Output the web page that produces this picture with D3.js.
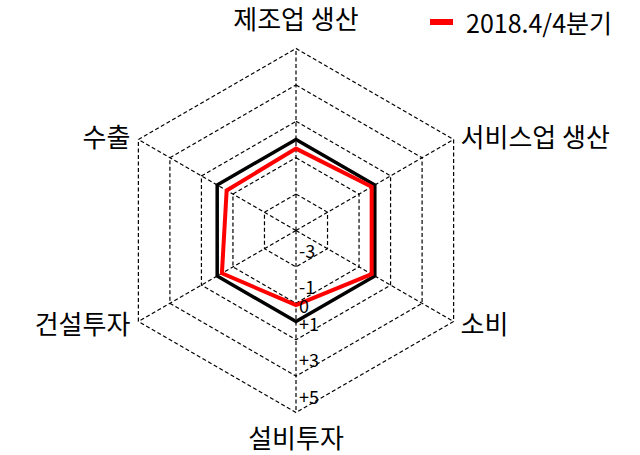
<!DOCTYPE html>
<html>
<head>
<meta charset="utf-8">
<script src="https://cdn.jsdelivr.net/npm/d3@7"></script>
<style>
  body { margin: 0; background: #fff; }
  text { font-family: "Noto Sans CJK KR", "Noto Sans", sans-serif; fill: #000; }
</style>
</head>
<body>
<svg id="chart" width="640" height="455"></svg>
<script>
const categories = ["제조업 생산", "서비스업 생산", "소비", "설비투자", "건설투자", "수출"];
const seriesName = "2018.4/4분기";
const seriesValues = [-0.5, -0.2, -0.2, -0.9, -0.3, -0.6];
const baseValues = [0, 0, 0, 0, 0, 0];
const ringTicks = [-3, -1, 1, 3, 5];
const tickLabels = [
    {v: -3, t: "-3"}, {v: -1, t: "-1"}, {v: 0, t: "0"},
    {v: 1, t: "+1"}, {v: 3, t: "+3"}, {v: 5, t: "+5"}
];

function getConfig() {
    const svg = d3.select("#chart");
    const cx = 296, cy = 230.5;
    const r = d3.scaleLinear().domain([-5, 5]).range([0, 182]);
    const angle = i => (-90 + 60 * i) * Math.PI / 180;
    return {svg, cx, cy, r, angle};
}

function point(cfg, i, v) {
    const a = cfg.angle(i);
    return [cfg.cx + cfg.r(v) * Math.cos(a), cfg.cy + cfg.r(v) * Math.sin(a)];
}

function drawGrid(cfg) {
    const g = cfg.svg.append("g");
    const line = d3.line();
    g.selectAll("path.ring")
        .data(ringTicks)
        .enter()
        .append("path")
        .attr("class", "ring")
        .attr("d", v => line(categories.map((c, i) => point(cfg, i, v))) + "Z")
        .attr("fill", "none")
        .attr("stroke", "#000")
        .attr("stroke-width", 1.2)
        .attr("stroke-dasharray", "4,2.5");
    g.selectAll("line.spoke")
        .data(categories)
        .enter()
        .append("line")
        .attr("class", "spoke")
        .attr("x1", cfg.cx)
        .attr("y1", cfg.cy)
        .attr("x2", (d, i) => point(cfg, i, 5)[0])
        .attr("y2", (d, i) => point(cfg, i, 5)[1])
        .attr("stroke", "#000")
        .attr("stroke-width", 1.2)
        .attr("stroke-dasharray", "4,2.5");
}

function drawSeries(cfg, values, color, width) {
    const line = d3.line();
    cfg.svg.append("path")
        .attr("d", line(values.map((v, i) => point(cfg, i, v))) + "Z")
        .attr("fill", "none")
        .attr("stroke", color)
        .attr("stroke-width", width)
        .attr("stroke-linejoin", "miter");
}

function drawTicks(cfg) {
    cfg.svg.selectAll("text.tick")
        .data(tickLabels)
        .enter()
        .append("text")
        .attr("class", "tick")
        .attr("x", cfg.cx + 3)
        .attr("y", d => cfg.cy + cfg.r(d.v) - 17)
        .attr("dominant-baseline", "central")
        .style("font-size", "18px")
        .text(d => d.t);
}

function drawLabels(cfg) {
    const pos = [
        {dx: 0, dy: -31, anchor: "middle"},
        {dx: 7, dy: -4, anchor: "start"},
        {dx: 7, dy: 1, anchor: "start"},
        {dx: 0, dy: 24, anchor: "middle"},
        {dx: -8, dy: 1, anchor: "end"},
        {dx: -8, dy: -4, anchor: "end"}
    ];
    cfg.svg.selectAll("text.cat")
        .data(categories)
        .enter()
        .append("text")
        .attr("class", "cat")
        .attr("x", (d, i) => point(cfg, i, 5)[0] + pos[i].dx)
        .attr("y", (d, i) => point(cfg, i, 5)[1] + pos[i].dy)
        .attr("text-anchor", (d, i) => pos[i].anchor)
        .attr("dominant-baseline", "central")
        .style("font-size", "26px")
        .text(d => d);
}

function drawLegend(cfg) {
    const g = cfg.svg.append("g").attr("transform", "translate(430,22)");
    g.append("line")
        .attr("x1", 0).attr("x2", 23)
        .attr("y1", 0).attr("y2", 0)
        .attr("stroke", "#ff0000")
        .attr("stroke-width", 6);
    g.append("text")
        .attr("x", 36)
        .attr("y", 0)
        .attr("dominant-baseline", "central")
        .style("font-size", "25px")
        .text(seriesName);
}

const cfg = getConfig();
drawGrid(cfg);
drawSeries(cfg, baseValues, "#000", 3.5);
drawSeries(cfg, seriesValues, "#ff0000", 4);
drawTicks(cfg);
drawLabels(cfg);
drawLegend(cfg);
</script>
</body>
</html>
